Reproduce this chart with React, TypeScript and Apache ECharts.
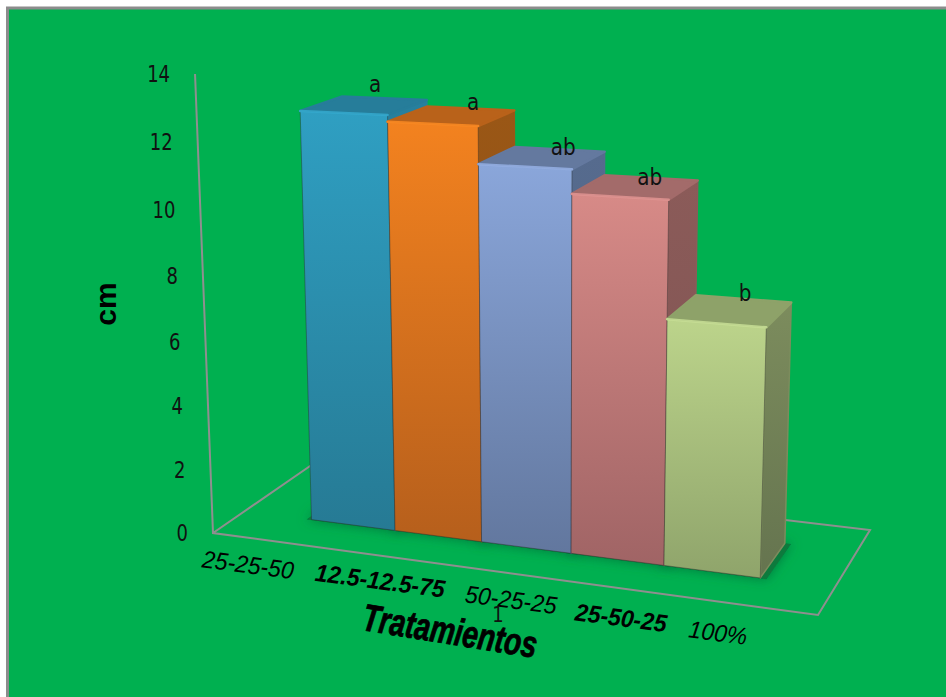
import React, { useEffect, useRef } from "react";
import * as echarts from "echarts";

// Plant height per fertiliser treatment, in cm.
const treatments = ["25-25-50", "12.5-12.5-75", "50-25-25", "25-50-25", "100%"];
const heights = [12.7, 12.5, 11.4, 10.7, 7.3];
const letters = ["a", "a", "ab", "ab", "b"];
const yTicks = [0, 2, 4, 6, 8, 10, 12, 14];

// Colours of each column: front top, front bottom, top face, side top, side bottom, highlight.
const palette = [
  ["#2f9fc2", "#267a94", "#267d9a", "#27809e", "#246f88", "#34a9cd"],
  ["#f3821f", "#b65f1c", "#b9621a", "#9a5716", "#8a4e14", "#fb8a22"],
  ["#8aa6da", "#62779e", "#64799f", "#566b8e", "#4e6180", "#93aee2"],
  ["#d78a87", "#a06465", "#a36b6a", "#8b5b59", "#7e5351", "#e09391"],
  ["#bcd48b", "#8fa46b", "#8ea269", "#7c8c5d", "#65744f", "#c6de95"],
];

// Small pixel nudges that keep the significance letters clear of the column tops.
const letterNudge = [
  [-9, -5],
  [3, 3],
  [4, 7],
  [-1, 8],
  [2, 3],
];

// Pose of the floor (corners in page pixels) and the vanishing point of the verticals.
const floorA = [213, 533];
const floorB = [818, 615];
const floorC = [870, 530];
const floorD = [313, 464];
const vanish = [553, 9220];
const riseK = -0.003585;

const dx1 = floorB[0] - floorC[0];
const dx2 = floorD[0] - floorC[0];
const sx = floorA[0] - floorB[0] + floorC[0] - floorD[0];
const dy1 = floorB[1] - floorC[1];
const dy2 = floorD[1] - floorC[1];
const sy = floorA[1] - floorB[1] + floorC[1] - floorD[1];
const det = dx1 * dy2 - dx2 * dy1;
const hg = (sx * dy2 - dx2 * sy) / det;
const hh = (dx1 * sy - sx * dy1) / det;
const ha = floorB[0] - floorA[0] + hg * floorB[0];
const hb = floorD[0] - floorA[0] + hh * floorD[0];
const hd = floorB[1] - floorA[1] + hg * floorB[1];
const he = floorD[1] - floorA[1] + hh * floorD[1];

// Floor position (u along the categories, v in depth) and value to page pixels.
function project(u: number, v: number, value: number): number[] {
  const w = hg * u + hh * v + 1;
  const X = ha * u + hb * v + floorA[0];
  const Y = hd * u + he * v + floorA[1];
  const k = riseK * value;
  return [(X + k * vanish[0]) / (w + k), (Y + k * vanish[1]) / (w + k)];
}

const gridBox = { left: 100, top: 100, width: 500, height: 500 };
const uStart = 0.125;
const uSpan = 0.761;
const vFront = 0.3;
const vBack = 0.72;

// Reads the axis scales and returns the column's extent in floor and value units.
function columnBox(api: any) {
  const idx = api.value(0);
  const pt = api.coord([idx, api.value(1)]);
  const band = api.size([1, 0])[0];
  const u0 = uStart + (((pt[0] - band / 2 - gridBox.left) / gridBox.width) * uSpan);
  const u1 = u0 + (band / gridBox.width) * uSpan;
  const val = ((gridBox.top + gridBox.height - pt[1]) / gridBox.height) * 14;
  return { idx, u0, u1, val };
}

function poly(points: number[][], style: any) {
  return { type: "polygon", shape: { points }, style };
}

function renderColumn(_: any, api: any) {
  const { idx, u0, u1, val } = columnBox(api);
  const c = palette[idx];
  const fl = project(u0, vFront, val);
  const fr = project(u1, vFront, val);
  const bl = project(u0, vBack, val);
  const br = project(u1, vBack, val);
  const gl = project(u0, vFront, 0);
  const gr = project(u1, vFront, 0);
  const gbr = project(u1, vBack, 0);
  const vert = (a: string, b: string) =>
    new echarts.graphic.LinearGradient(0, 0, 0, 1, [
      { offset: 0, color: a },
      { offset: 1, color: b },
    ]);
  return {
    type: "group",
    children: [
      poly([fr, br, gbr, gr], { fill: vert(c[3], c[4]), stroke: c[3], lineWidth: 1.5, lineJoin: "round" }),
      poly([fl, bl, br, fr], { fill: c[2], stroke: c[2], lineWidth: 2.5, lineJoin: "round" }),
      poly([fl, fr, gr, gl], { fill: vert(c[0], c[1]), stroke: "rgba(40,40,40,0.4)", lineWidth: 1, lineJoin: "round" }),
      { type: "polyline", shape: { points: [fl, fr] }, style: { fill: "none", stroke: c[5], lineWidth: 2.5, lineCap: "round", opacity: 0.9 } },
    ],
  };
}

function renderFloorShadow(_: any, api: any) {
  const { u0, u1 } = columnBox(api);
  return poly(
    [
      project(u0 - 0.008, vFront - 0.006, 0),
      project(u1 + 0.01, vFront - 0.006, 0),
      project(u1 + 0.01, vBack, 0),
      project(u0 - 0.008, vBack, 0),
    ],
    { fill: "#087a3c", shadowBlur: 12, shadowColor: "#087a3c" },
  );
}

function renderFrame() {
  const lineStyle = { fill: "none", stroke: "#8f8f8f", lineWidth: 2, lineJoin: "miter" };
  const A = project(0, 0, 0);
  return {
    type: "group",
    children: [
      { type: "polyline", shape: { points: [project(0, 0, 14), A, project(1, 0, 0), project(1, 1, 0), project(0, 1, 0), A] }, style: lineStyle },
    ],
  };
}

function renderLetter(_: any, api: any) {
  const { idx, u0, u1, val } = columnBox(api);
  const p = project((u0 + u1) / 2, vBack, val);
  return {
    type: "text",
    x: p[0] + letterNudge[idx][0],
    y: p[1] - 9 + letterNudge[idx][1],
    scaleY: 1.12,
    style: { text: letters[idx], fill: "#111", font: "20px 'DejaVu Sans'", align: "center", verticalAlign: "middle" },
  };
}

function renderTick(_: any, api: any) {
  const pt = api.coord([0, api.value(0)]);
  const val = ((gridBox.top + gridBox.height - pt[1]) / gridBox.height) * 14;
  const p = project(0, 0, val);
  return {
    type: "text",
    x: p[0] - 25,
    y: p[1],
    scaleY: 1.25,
    style: { text: String(api.value(0)), fill: "#111", font: "18px 'DejaVu Sans'", align: "right", verticalAlign: "middle" },
  };
}

const catLabels = [
  { x: 248, y: 565, bold: false },
  { x: 380, y: 581, bold: true },
  { x: 511, y: 600, bold: false },
  { x: 621, y: 618, bold: true },
  { x: 718, y: 633, bold: false },
];

export default function App() {
  const ref = useRef<HTMLDivElement>(null);
  useEffect(() => {
    const chart = echarts.init(ref.current!, null, { renderer: "svg" });
    const columnData = heights.map((h, i) => [i, h]);
    const tilt = -0.13;
    chart.setOption({
      animation: false,
      backgroundColor: "#ffffff",
      grid: { ...gridBox, show: false },
      xAxis: { type: "category", data: treatments, show: false },
      yAxis: { type: "value", min: 0, max: 14, interval: 2, show: false },
      graphic: [
        { type: "rect", z: -10, shape: { x: 7.5, y: 8, width: 945, height: 695 }, style: { fill: "#00b050", stroke: "#8c8c8c", lineWidth: 3 } },
        ...catLabels.map((l, i) => ({
          type: "text",
          z: 20,
          x: l.x,
          y: l.y,
          rotation: tilt,
          scaleY: 1.06,
          style: {
            text: treatments[i],
            fill: "#000",
            font: `italic ${l.bold ? "bold " : ""}23px 'Liberation Sans'`,
            align: "center",
            verticalAlign: "middle",
          },
        })),
        { type: "text", z: 20, x: 498, y: 615, scaleY: 1.2, style: { text: "1", fill: "#111", font: "18px 'DejaVu Sans'", align: "center", verticalAlign: "middle" } },
        {
          type: "text",
          z: 21,
          x: 450,
          y: 631,
          rotation: -0.16,
          scaleX: 0.74,
          style: { text: "Tratamientos", fill: "#000", stroke: "#000", lineWidth: 0.8, font: "italic bold 38px 'Liberation Sans'", align: "center", verticalAlign: "middle" },
        },
        {
          type: "text",
          z: 20,
          x: 105,
          y: 304,
          rotation: Math.PI / 2,
          style: { text: "cm", fill: "#000", font: "bold 30px 'Liberation Sans'", align: "center", verticalAlign: "middle" },
        },
      ],
      series: [
        { type: "custom", coordinateSystem: "cartesian2d", z: 1, silent: true, data: [[0, 0]], renderItem: renderFrame },
        { type: "custom", coordinateSystem: "cartesian2d", z: 2, silent: true, data: columnData, renderItem: renderFloorShadow },
        { type: "custom", coordinateSystem: "cartesian2d", z: 3, silent: true, data: columnData, renderItem: renderColumn },
        { type: "custom", coordinateSystem: "cartesian2d", z: 4, silent: true, data: columnData, renderItem: renderLetter },
        { type: "custom", coordinateSystem: "cartesian2d", z: 4, silent: true, data: yTicks.map((t) => [t]), encode: { y: 0 }, renderItem: renderTick },
      ],
    });
    return () => chart.dispose();
  }, []);
  return <div ref={ref} style={{ position: "absolute", left: 0, top: 0, width: 946, height: 697 }} />;
}
